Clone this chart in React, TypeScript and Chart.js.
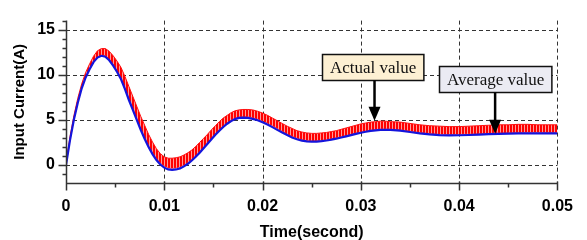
import React, { useEffect, useRef } from 'react';
import { Chart, registerables } from 'chart.js';
Chart.register(...registerables);

// ---- data ----
const timeS = [
  0, 0.0004, 0.0008, 0.0012, 0.0016, 0.002, 0.0024, 0.0028, 0.0032, 0.0036,
  0.004, 0.0044, 0.0048, 0.0052, 0.0056, 0.006, 0.0064, 0.0068, 0.0072, 0.0076,
  0.008, 0.0084, 0.0088, 0.0092, 0.0096, 0.01, 0.0104, 0.0108, 0.0112, 0.0116,
  0.012, 0.0124, 0.0128, 0.0132, 0.0136, 0.014, 0.0144, 0.0148, 0.0152, 0.0156,
  0.016, 0.0164, 0.0168, 0.0172, 0.0176, 0.018, 0.0185, 0.019, 0.0195, 0.02,
  0.0205, 0.021, 0.0215, 0.022, 0.0225, 0.023, 0.0235, 0.024, 0.0245, 0.025,
  0.0255, 0.026, 0.0265, 0.027, 0.0275, 0.028, 0.0285, 0.029, 0.0295, 0.03,
  0.0305, 0.031, 0.0315, 0.032, 0.0325, 0.033, 0.034, 0.035, 0.036, 0.037,
  0.038, 0.039, 0.04, 0.041, 0.042, 0.043, 0.044, 0.045, 0.046, 0.047,
  0.048, 0.049, 0.05,
];
const averageA = [
  0, 2.7, 5.0, 6.9, 8.5, 9.7, 10.6, 11.4, 11.9, 12.1,
  12.0, 11.6, 11.0, 10.3, 9.5, 8.4, 7.2, 6.1, 5.0, 3.9,
  2.9, 2.0, 1.2, 0.55, 0.05, -0.3, -0.5, -0.55, -0.5, -0.38,
  -0.16, 0.13, 0.49, 0.9, 1.36, 1.85, 2.35, 2.85, 3.34, 3.8,
  4.21, 4.57, 4.86, 5.08, 5.21, 5.25, 5.22, 5.11, 4.95, 4.74,
  4.48, 4.19, 3.89, 3.59, 3.31, 3.05, 2.85, 2.7, 2.61, 2.58,
  2.59, 2.64, 2.71, 2.8, 2.91, 3.04, 3.17, 3.31, 3.44, 3.57,
  3.68, 3.77, 3.84, 3.89, 3.9, 3.89, 3.8, 3.65, 3.5, 3.38,
  3.31, 3.28, 3.29, 3.32, 3.36, 3.41, 3.45, 3.48, 3.5, 3.51,
  3.51, 3.5, 3.5,
];
const actualHighA = [
  0.2, 3.1, 5.45, 7.4, 9.0, 10.25, 11.2, 12.05, 12.65, 12.9,
  12.9, 12.6, 12.1, 11.5, 10.8, 9.8, 8.7, 7.6, 6.5, 5.4,
  4.4, 3.4, 2.55, 1.8, 1.25, 0.9, 0.75, 0.75, 0.8, 0.9,
  1.1, 1.35, 1.65, 2.05, 2.5, 2.95, 3.4, 3.9, 4.35, 4.8,
  5.2, 5.5, 5.8, 6.0, 6.1, 6.15, 6.15, 6.1, 5.95, 5.75,
  5.5, 5.2, 4.9, 4.6, 4.3, 4.05, 3.8, 3.65, 3.55, 3.5,
  3.5, 3.55, 3.6, 3.7, 3.8, 3.95, 4.1, 4.25, 4.4, 4.55,
  4.65, 4.75, 4.8, 4.85, 4.85, 4.8, 4.75, 4.6, 4.45, 4.35,
  4.3, 4.25, 4.25, 4.3, 4.35, 4.4, 4.45, 4.45, 4.5, 4.5,
  4.45, 4.45, 4.45,
];
const actualLowA = [
  0, 2.75, 5.05, 6.95, 8.55, 9.75, 10.65, 11.45, 11.95, 12.2,
  12.15, 11.75, 11.2, 10.5, 9.7, 8.6, 7.4, 6.3, 5.2, 4.1,
  3.1, 2.2, 1.4, 0.75, 0.25, -0.1, -0.3, -0.35, -0.3, -0.2,
  0.0, 0.28, 0.62, 1.02, 1.48, 1.97, 2.47, 2.97, 3.46, 3.92,
  4.33, 4.69, 4.98, 5.2, 5.33, 5.37, 5.36, 5.27, 5.12, 4.92,
  4.66, 4.37, 4.06, 3.75, 3.46, 3.2, 3.0, 2.84, 2.75, 2.72,
  2.72, 2.76, 2.83, 2.92, 3.03, 3.16, 3.29, 3.43, 3.56, 3.69,
  3.8, 3.89, 3.96, 4.01, 4.02, 4.01, 3.92, 3.78, 3.63, 3.51,
  3.44, 3.41, 3.42, 3.45, 3.49, 3.54, 3.58, 3.61, 3.63, 3.64,
  3.64, 3.63, 3.63,
];
const xTickValues = [0, 0.01, 0.02, 0.03, 0.04, 0.05];
const xTickLabels = ['0', '0.01', '0.02', '0.03', '0.04', '0.05'];
const xMinorTicks = [0.005, 0.015, 0.025, 0.035, 0.045];
const yTickValues = [0, 5, 10, 15];
const yTickLabels = ['0', '5', '10', '15'];
const yMinorTicks = [-1, 1, 2, 3, 4, 6, 7, 8, 9, 11, 12, 13, 14, 16];
const calloutTexts = ['Actual value', 'Average value'];
const xTitle = 'Time(second)';
const yTitle = 'Input Current(A)';

const SANS = '"Liberation Sans", Arial, sans-serif';
const SERIF = '"Liberation Serif", "Times New Roman", serif';

const frameAndCallouts = {
  id: 'frameAndCallouts',
  beforeDatasetsDraw(chart: any) {
    const { ctx, chartArea: a, scales } = chart;
    const x = scales.x, y = scales.y;
    ctx.save();
    ctx.strokeStyle = '#333';
    ctx.lineWidth = 1;
    ctx.setLineDash([4, 3]);
    ctx.beginPath();
    for (const v of xTickValues) {
      if (v === 0) continue;
      const px = Math.round(x.getPixelForValue(v)) + 0.5;
      ctx.moveTo(px, a.top);
      ctx.lineTo(px, a.bottom);
    }
    for (const v of yTickValues) {
      const py = Math.round(y.getPixelForValue(v)) + 0.5;
      ctx.moveTo(a.left, py);
      ctx.lineTo(a.right, py);
    }
    ctx.stroke();
    ctx.restore();
  },
  afterDatasetsDraw(chart: any) {
    const { ctx, chartArea: a, scales } = chart;
    const x = scales.x, y = scales.y;
    ctx.save();
    ctx.strokeStyle = '#333';
    ctx.lineWidth = 1.5;
    ctx.setLineDash([]);
    ctx.beginPath();
    const L = Math.round(a.left) + 0.5;
    const B = Math.round(a.bottom) + 0.5;
    ctx.moveTo(L, a.top);
    ctx.lineTo(L, B);
    ctx.lineTo(a.right, B);
    for (const v of yTickValues) {
      const py = Math.round(y.getPixelForValue(v)) + 0.5;
      ctx.moveTo(L - 8, py);
      ctx.lineTo(L, py);
    }
    for (const v of yMinorTicks) {
      const py = Math.round(y.getPixelForValue(v)) + 0.5;
      ctx.moveTo(L - 4, py);
      ctx.lineTo(L, py);
    }
    for (const v of xTickValues) {
      const px = Math.round(x.getPixelForValue(v)) + 0.5;
      ctx.moveTo(px, B - 2);
      ctx.lineTo(px, B + 7);
    }
    for (const v of xMinorTicks) {
      const px = Math.round(x.getPixelForValue(v)) + 0.5;
      ctx.moveTo(px, B);
      ctx.lineTo(px, B + 4);
    }
    ctx.stroke();
    ctx.restore();
  },
  afterDraw(chart: any, _args: any, opts: any) {
    const { ctx, scales } = chart;
    const x = scales.x, y = scales.y;
    ctx.save();
    ctx.font = `17px ${SERIF}`;
    (opts.items || []).forEach((it: any, i: number) => {
      const text = calloutTexts[i];
      const tw = ctx.measureText(text).width;
      const w = tw + 15, h = 26;
      const cx = x.getPixelForValue(it.cx), cy = y.getPixelForValue(it.cy);
      const x0 = Math.round(cx - w / 2) + 0.5, y0 = Math.round(cy - h / 2) + 0.5;
      ctx.fillStyle = it.fill;
      ctx.fillRect(x0, y0, w, h);
      ctx.strokeStyle = '#111';
      ctx.lineWidth = 1.5;
      ctx.strokeRect(x0, y0, w, h);
      ctx.fillStyle = '#111';
      ctx.textAlign = 'center';
      ctx.textBaseline = 'middle';
      ctx.fillText(text, x0 + w / 2, y0 + h / 2 + 1);
      const tx = x.getPixelForValue(it.tipX), ty = y.getPixelForValue(it.tipY);
      ctx.strokeStyle = '#000';
      ctx.lineWidth = 2.5;
      ctx.beginPath();
      ctx.moveTo(tx, y0 + h);
      ctx.lineTo(tx, ty - 12);
      ctx.stroke();
      ctx.fillStyle = '#000';
      ctx.beginPath();
      ctx.moveTo(tx - 6, ty - 14);
      ctx.lineTo(tx + 6, ty - 14);
      ctx.lineTo(tx, ty);
      ctx.closePath();
      ctx.fill();
    });
    ctx.restore();
  },
};

export default function App() {
  const ref = useRef<HTMLCanvasElement | null>(null);
  useEffect(() => {
    const canvas = ref.current;
    if (!canvas) return;
    const pc = document.createElement('canvas');
    pc.width = 3; pc.height = 1;
    const pctx = pc.getContext('2d')!;
    pctx.fillStyle = '#ff0000';
    pctx.fillRect(0, 0, 3, 1);
    pctx.fillStyle = '#ff9a9a';
    pctx.fillRect(2, 0, 1, 1);
    const pattern = canvas.getContext('2d')!.createPattern(pc, 'repeat');

    const chart = new Chart(canvas, {
      type: 'line',
      data: {
        datasets: [
          {
            label: 'Average value',
            data: timeS.map((t, i) => ({ x: t, y: averageA[i] })),
            borderColor: '#1414dc',
            borderWidth: 2.2,
            pointRadius: 0,
            fill: false,
            tension: 0,
          },
          {
            label: 'Actual value (upper)',
            data: timeS.map((t, i) => ({ x: t, y: actualHighA[i] })),
            borderColor: '#ff1010',
            borderWidth: 1,
            pointRadius: 0,
            fill: '+1',
            backgroundColor: pattern as any,
            tension: 0,
          },
          {
            label: 'Actual value (lower)',
            data: timeS.map((t, i) => ({ x: t, y: actualLowA[i] })),
            borderColor: '#ff1010',
            borderWidth: 1,
            pointRadius: 0,
            fill: false,
            tension: 0,
          },
        ],
      },
      options: {
        responsive: false,
        animation: false,
        devicePixelRatio: 1,
        layout: { padding: { left: 0, right: 24, top: 6, bottom: 0 } },
        plugins: {
          legend: { display: false },
          tooltip: { enabled: false },
          frameAndCallouts: {
            items: [
              { cx: 0.03124, cy: 10.9, tipX: 0.03139, tipY: 4.9, fill: '#fdf0d3' },
              { cx: 0.04366, cy: 9.49, tipX: 0.04366, tipY: 3.47, fill: '#ebebf3' },
            ],
          },
        } as any,
        scales: {
          x: {
            type: 'linear',
            min: 0,
            max: 0.05,
            grid: { display: false, drawTicks: false },
            border: { display: false },
            afterBuildTicks: (s: any) => { s.ticks = xTickValues.map((v) => ({ value: v })); },
            afterFit: (s: any) => { s.height = 57; },
            ticks: {
              padding: 14,
              color: '#000',
              font: { family: SANS, size: 16, weight: 'bold' },
              maxRotation: 0,
              callback: (v: any) => {
                const i = xTickValues.findIndex((t) => Math.abs(t - v) < 1e-9);
                return i >= 0 ? xTickLabels[i] : '';
              },
            },
            title: {
              display: true,
              text: xTitle,
              color: '#000',
              font: { family: SANS, size: 16, weight: 'bold' },
              padding: { top: 0, bottom: -2 },
            },
          },
          y: {
            type: 'linear',
            min: -2,
            max: 16,
            grid: { display: false, drawTicks: false },
            border: { display: false },
            afterBuildTicks: (s: any) => { s.ticks = yTickValues.map((v) => ({ value: v })); },
            afterFit: (s: any) => { s.width = 66; },
            ticks: {
              padding: 11,
              color: '#000',
              font: { family: SANS, size: 16, weight: 'bold' },
              callback: (v: any) => {
                const i = yTickValues.indexOf(v);
                return i >= 0 ? yTickLabels[i] : '';
              },
            },
            title: {
              display: true,
              text: yTitle,
              color: '#000',
              font: { family: SANS, size: 15, weight: 'bold' },
              padding: { top: 11, bottom: 0 },
            },
          },
        },
      },
      plugins: [frameAndCallouts],
    });
    return () => chart.destroy();
  }, []);

  return (
    <div style={{ position: 'fixed', left: 0, top: 0, width: 587, height: 240, background: '#fff' }}>
      <canvas ref={ref} width={587} height={240} />
    </div>
  );
}
